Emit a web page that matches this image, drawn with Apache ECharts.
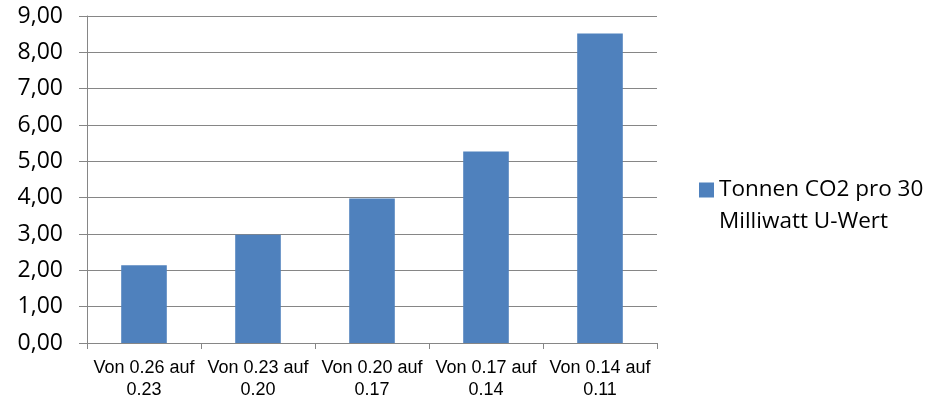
<!DOCTYPE html>
<html>
<head>
<meta charset="utf-8">
<script src="https://cdn.jsdelivr.net/npm/echarts@6/dist/echarts.min.js"></script>
<style>
  html, body { margin: 0; padding: 0; background: #ffffff; }
  #chart { width: 934px; height: 402px; }
</style>
</head>
<body>
<div id="chart"></div>
<script>
// Values.
const categories = [
  'Von 0.26 auf\n0.23',
  'Von 0.23 auf\n0.20',
  'Von 0.20 auf\n0.17',
  'Von 0.17 auf\n0.14',
  'Von 0.14 auf\n0.11'
];
const seriesName = 'Tonnen CO2 pro 30\nMilliwatt U-Wert';
const tonnen = [2.14, 2.98, 3.98, 5.27, 8.52];
const yMin = 0;
const yMax = 9;
const yStep = 1;

const gridGray = '#868686';
const chart = echarts.init(document.getElementById('chart'), null, { renderer: 'canvas' });

// Legend square sits level with the first of the two text lines: the icon box
// is 47 tall but the path only fills its top 15px (the bottom line is empty).
const legendIcon = 'path://M0,0L15,0L15,15L0,15Z M0,47L15,47';

chart.setOption({
  backgroundColor: '#ffffff',
  animation: false,
  grid: { left: 87, right: 277, top: 16, bottom: 59, containLabel: false },
  legend: {
    left: 699,
    top: 174,
    padding: 0,
    itemWidth: 15,
    itemHeight: 47,
    icon: legendIcon,
    selectedMode: false,
    textStyle: {
      fontFamily: '"Open Sans", sans-serif',
      fontSize: 22.5,
      lineHeight: 32,
      color: '#000000'
    },
    data: [seriesName]
  },
  xAxis: {
    type: 'category',
    data: categories,
    axisLine: { show: true, lineStyle: { color: gridGray, width: 1 } },
    axisTick: { show: true, length: 6, alignWithLabel: false, lineStyle: { color: gridGray } },
    axisLabel: {
      interval: 0,
      margin: 14,
      color: '#000000',
      fontFamily: '"Liberation Sans", Arial, sans-serif',
      fontSize: 18,
      lineHeight: 22
    }
  },
  yAxis: {
    type: 'value',
    min: yMin,
    max: yMax,
    interval: yStep,
    axisLine: { show: true, lineStyle: { color: gridGray, width: 1 } },
    axisTick: { show: true, length: 8, lineStyle: { color: gridGray } },
    splitLine: { show: true, lineStyle: { color: gridGray, width: 1 } },
    axisLabel: {
      margin: 24,
      color: '#000000',
      fontFamily: '"Open Sans", sans-serif',
      fontSize: 23,
      formatter: v => v.toFixed(2).replace('.', ',')
    }
  },
  series: [{
    name: seriesName,
    type: 'bar',
    data: tonnen,
    barWidth: '40%',
    itemStyle: { color: '#4F81BD' }
  }]
});
</script>
</body>
</html>
